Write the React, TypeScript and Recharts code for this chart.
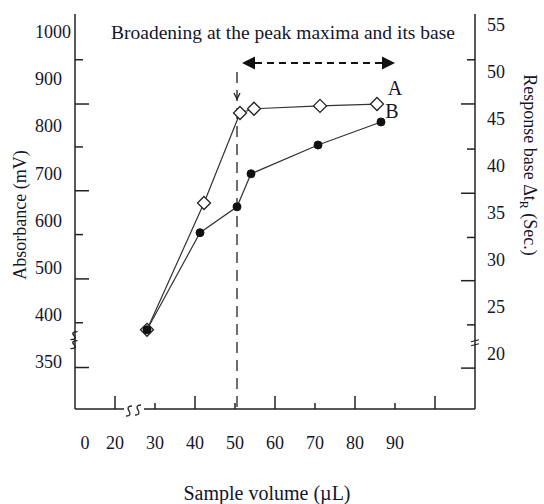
import { LineChart, Line, XAxis, YAxis, ReferenceLine, ReferenceDot } from "recharts"

// sample volume (µL) and absorbance (mV) for the two curves
const volumeA = [28, 42.25, 51.25, 54.75, 71.25, 85.5]
const absorbanceA = [368, 637, 828, 837, 843, 847]
const volumeB = [28, 41.25, 50.5, 54, 70.75, 86.5]
const absorbanceB = [368, 574, 629, 699, 760, 809]

// axis labels (the axes are broken, so a few labels sit off their true value)
const xTickValues = [12.5, 20, 30, 40, 50, 60, 70, 80, 90]
const xTickLabels = ["0", "20", "30", "40", "50", "60", "70", "80", "90"]
const absTickValues = [300, 400, 500, 600, 700, 800, 900, 1000]
const absTickLabels = ["350", "400", "500", "600", "700", "800", "900", "1000"]
const secTickValues = [20, 25, 30, 35, 40, 45, 50, 55]

// tick marks on the frame, which do not line up with the labels
const xMarkValues = [20, 30, 40, 50, 60, 70, 80, 90, 100]
const absMarkValues = [288, 383, 476, 570, 663, 756, 847, 941]
const secMarkValues = [18.5, 23.1, 27.8, 32.4, 37.1, 41.8, 46.6, 51.3]

const seriesA = volumeA.map((v, i) => ({ volume: v, absorbance: absorbanceA[i] }))
const seriesB = volumeB.map((v, i) => ({ volume: v, absorbance: absorbanceB[i] }))

const FONT = '"Liberation Serif", "Times New Roman", serif'
const INK = "#15152a"
const textStyle = (size: number) => ({ fontFamily: FONT, fontSize: size, fill: INK })

const sPath = (cx: number, cy: number, w: number, h: number) =>
    `M${cx + w / 2},${cy - h / 2} Q${cx - w / 2},${cy - h / 2} ${cx},${cy} Q${cx + w / 2},${cy + h / 2} ${cx - w / 2},${cy + h / 2}`

const Diamond = (props: any) => {
    const { cx, cy } = props
    if (cx == null || cy == null) return <g />
    const r = 6.5
    return (
        <path
            d={`M${cx},${cy - r} L${cx + r},${cy} L${cx},${cy + r} L${cx - r},${cy} Z`}
            fill="#fff"
            stroke="#222"
            strokeWidth={1.3}
        />
    )
}

const EndLabel = (text: string, count: number, dx: number, dy: number) => (props: any) => {
    if (props.index !== count - 1) return <g />
    return (
        <text x={props.x + dx} y={props.y + dy} dy="0.35em" textAnchor="middle" style={textStyle(20)}>
            {text}
        </text>
    )
}

// label or frame mark, depending on which list the value belongs to
const XTick = (p: any) => {
    const v = p.payload.value
    const li = xTickLabels.length ? xTickValues.indexOf(v) : -1
    const mi = xMarkValues.indexOf(v)
    return (
        <g>
            {mi >= 0 && (
                <line x1={p.x} y1={p.y} x2={p.x} y2={p.y - (mi % 2 === 0 ? 13 : 6)} stroke="#222" strokeWidth={1.5} />
            )}
            {li >= 0 && (
                <text x={p.x} y={p.y + 34} dy="0.35em" textAnchor="middle" style={textStyle(18)}>
                    {xTickLabels[li]}
                </text>
            )}
        </g>
    )
}

const AbsTick = (p: any) => {
    const v = p.payload.value
    const li = absTickValues.indexOf(v)
    const mi = absMarkValues.indexOf(v)
    return (
        <g>
            {mi >= 0 && (
                <line x1={p.x} y1={p.y} x2={p.x + (mi % 2 === 0 ? 14 : 8)} y2={p.y} stroke="#222" strokeWidth={1.5} />
            )}
            {li >= 0 && (
                <text x={p.x - 40} y={p.y} dy="0.35em" textAnchor="start" style={textStyle(18)}>
                    {absTickLabels[li]}
                </text>
            )}
        </g>
    )
}

const SecTick = (p: any) => {
    const v = p.payload.value
    const li = secTickValues.indexOf(v)
    const mi = secMarkValues.indexOf(v)
    return (
        <g>
            {mi >= 0 && (
                <line x1={p.x} y1={p.y} x2={p.x - (mi % 2 === 0 ? 14 : 8)} y2={p.y} stroke="#222" strokeWidth={1.5} />
            )}
            {li >= 0 && (
                <text x={p.x + 12} y={p.y} dy="0.35em" textAnchor="start" style={textStyle(18)}>
                    {v}
                </text>
            )}
        </g>
    )
}

export default function App() {
    return (
        <div style={{ position: "absolute", left: 0, top: 0, background: "#fff" }}>
            <LineChart width={544} height={504} margin={{ top: 14, right: 0, bottom: 0, left: 0 }}>
                <XAxis
                    xAxisId="vol"
                    type="number"
                    dataKey="volume"
                    domain={[10, 110]}
                    allowDataOverflow
                    ticks={[...xTickValues, 100]}
                    interval={0}
                    height={95}
                    tickSize={0}
                    tickMargin={0}
                    tickLine={false}
                    axisLine={{ stroke: "#222", strokeWidth: 1.5 }}
                    tick={<XTick />}
                    label={{
                        content: (p: any) => {
                            const vb = p.viewBox
                            return (
                                <text x={vb.x + 192} y={vb.y + 84} dy="0.35em" textAnchor="middle" style={textStyle(20)}>
                                    Sample volume (µL)
                                </text>
                            )
                        }
                    }}
                />
                <XAxis
                    xAxisId="frameTop"
                    orientation="top"
                    type="number"
                    height={0}
                    domain={[10, 110]}
                    tick={false}
                    tickLine={false}
                    axisLine={{ stroke: "#222", strokeWidth: 2.5 }}
                />
                <YAxis
                    yAxisId="abs"
                    type="number"
                    domain={[200, 1038]}
                    allowDataOverflow
                    ticks={[...absTickValues, ...absMarkValues]}
                    interval={0}
                    width={75}
                    tickSize={0}
                    tickMargin={0}
                    tickLine={false}
                    axisLine={{ stroke: "#222", strokeWidth: 1.5 }}
                    tick={<AbsTick />}
                    label={{
                        content: (p: any) => {
                            const vb = p.viewBox
                            const cx = vb.x + 20
                            const cy = vb.y + 201
                            return (
                                <text x={cx} y={cy} dy="0.35em" textAnchor="middle" transform={`rotate(-90 ${cx} ${cy})`} style={textStyle(18)}>
                                    Absorbance (mV)
                                </text>
                            )
                        }
                    }}
                />
                <YAxis
                    yAxisId="sec"
                    orientation="right"
                    type="number"
                    domain={[14.15, 56.17]}
                    allowDataOverflow
                    ticks={[...secTickValues, ...secMarkValues]}
                    interval={0}
                    width={69}
                    tickSize={0}
                    tickMargin={0}
                    tickLine={false}
                    axisLine={{ stroke: "#222", strokeWidth: 1.5 }}
                    tick={<SecTick />}
                    label={{
                        content: (p: any) => {
                            const vb = p.viewBox
                            const cx = vb.x + 55
                            const cy = vb.y + 151
                            return (
                                <text x={cx} y={cy} dy="0.35em" textAnchor="middle" transform={`rotate(90 ${cx} ${cy})`} style={textStyle(18)}>
                                    Response base Δt
                                    <tspan fontSize={12} dy={4}>R</tspan>
                                    <tspan dy={-4}> (Sec.)</tspan>
                                </text>
                            )
                        }
                    }}
                />

                {/* heading inside the frame */}
                <ReferenceDot
                    xAxisId="vol"
                    yAxisId="abs"
                    x={62}
                    y={1000}
                    ifOverflow="visible"
                    shape={(p: any) => (
                        <text x={p.cx} y={p.cy} dy="0.35em" textAnchor="middle" style={textStyle(19.5)}>
                            Broadening at the peak maxima and its base
                        </text>
                    )}
                />

                {/* double-headed dashed arrow over the plateau */}
                <ReferenceLine
                    xAxisId="vol"
                    yAxisId="abs"
                    ifOverflow="visible"
                    segment={[{ x: 51.75, y: 934 }, { x: 90, y: 934 }]}
                    shape={(p: any) => {
                        const { x1, y1, x2 } = p
                        const h = 13
                        return (
                            <g>
                                <line x1={x1 + h} y1={y1} x2={x2 - h} y2={y1} stroke="#111" strokeWidth={1.8} strokeDasharray="7 5" />
                                <path d={`M${x1},${y1} L${x1 + h},${y1 - 6.5} L${x1 + h},${y1 + 6.5} Z`} fill="#111" />
                                <path d={`M${x2},${y1} L${x2 - h},${y1 - 6.5} L${x2 - h},${y1 + 6.5} Z`} fill="#111" />
                            </g>
                        )
                    }}
                />

                {/* dashed marker at 50 µL */}
                <ReferenceLine
                    xAxisId="vol"
                    yAxisId="abs"
                    ifOverflow="visible"
                    segment={[{ x: 50.5, y: 915 }, { x: 50.5, y: 200 }]}
                    shape={(p: any) => {
                        const { x1, y1, y2 } = p
                        const tip = y1 + 27
                        return (
                            <g>
                                <line x1={x1} y1={y1} x2={x1} y2={y2} stroke="#222" strokeWidth={1.3} strokeDasharray="11 7" />
                                <path d={`M${x1 - 3},${tip - 6} L${x1},${tip} L${x1 + 3},${tip - 6}`} fill="none" stroke="#222" strokeWidth={1.3} />
                            </g>
                        )
                    }}
                />

                {/* axis break symbols */}
                <ReferenceDot
                    xAxisId="vol"
                    yAxisId="abs"
                    x={10}
                    y={345}
                    ifOverflow="visible"
                    shape={(p: any) => (
                        <g fill="none" stroke="#222" strokeWidth={1.4}>
                            <path d={sPath(p.cx - 1, p.cy - 5, 7, 8)} />
                            <path d={sPath(p.cx - 1, p.cy + 4, 7, 8)} />
                        </g>
                    )}
                />
                <ReferenceDot
                    xAxisId="vol"
                    yAxisId="abs"
                    x={24.75}
                    y={200}
                    ifOverflow="visible"
                    shape={(p: any) => (
                        <g fill="none" stroke="#222" strokeWidth={1.4}>
                            <rect x={p.cx - 10} y={p.cy - 2} width={20} height={4} fill="#fff" stroke="none" />
                            <path d={sPath(p.cx - 5, p.cy + 2, 6, 10)} />
                            <path d={sPath(p.cx + 4, p.cy + 1, 6, 10)} />
                        </g>
                    )}
                />
                <ReferenceDot
                    xAxisId="vol"
                    yAxisId="sec"
                    x={110}
                    y={21.2}
                    ifOverflow="visible"
                    shape={(p: any) => (
                        <g stroke="#222" strokeWidth={1.2}>
                            <line x1={p.cx - 4} y1={p.cy - 1} x2={p.cx + 4} y2={p.cy - 3} />
                            <line x1={p.cx - 4} y1={p.cy + 3} x2={p.cx + 4} y2={p.cy + 1} />
                        </g>
                    )}
                />

                <Line
                    xAxisId="vol"
                    yAxisId="abs"
                    data={seriesA}
                    dataKey="absorbance"
                    type="linear"
                    stroke="#333"
                    strokeWidth={1.2}
                    dot={<Diamond />}
                    label={EndLabel("A", seriesA.length, 18, -16)}
                    isAnimationActive={false}
                />
                <Line
                    xAxisId="vol"
                    yAxisId="abs"
                    data={seriesB}
                    dataKey="absorbance"
                    type="linear"
                    stroke="#333"
                    strokeWidth={1.2}
                    dot={{ r: 4, fill: "#111", stroke: "#111", strokeWidth: 1 }}
                    label={EndLabel("B", seriesB.length, 11, -11)}
                    isAnimationActive={false}
                />
            </LineChart>
        </div>
    )
}
